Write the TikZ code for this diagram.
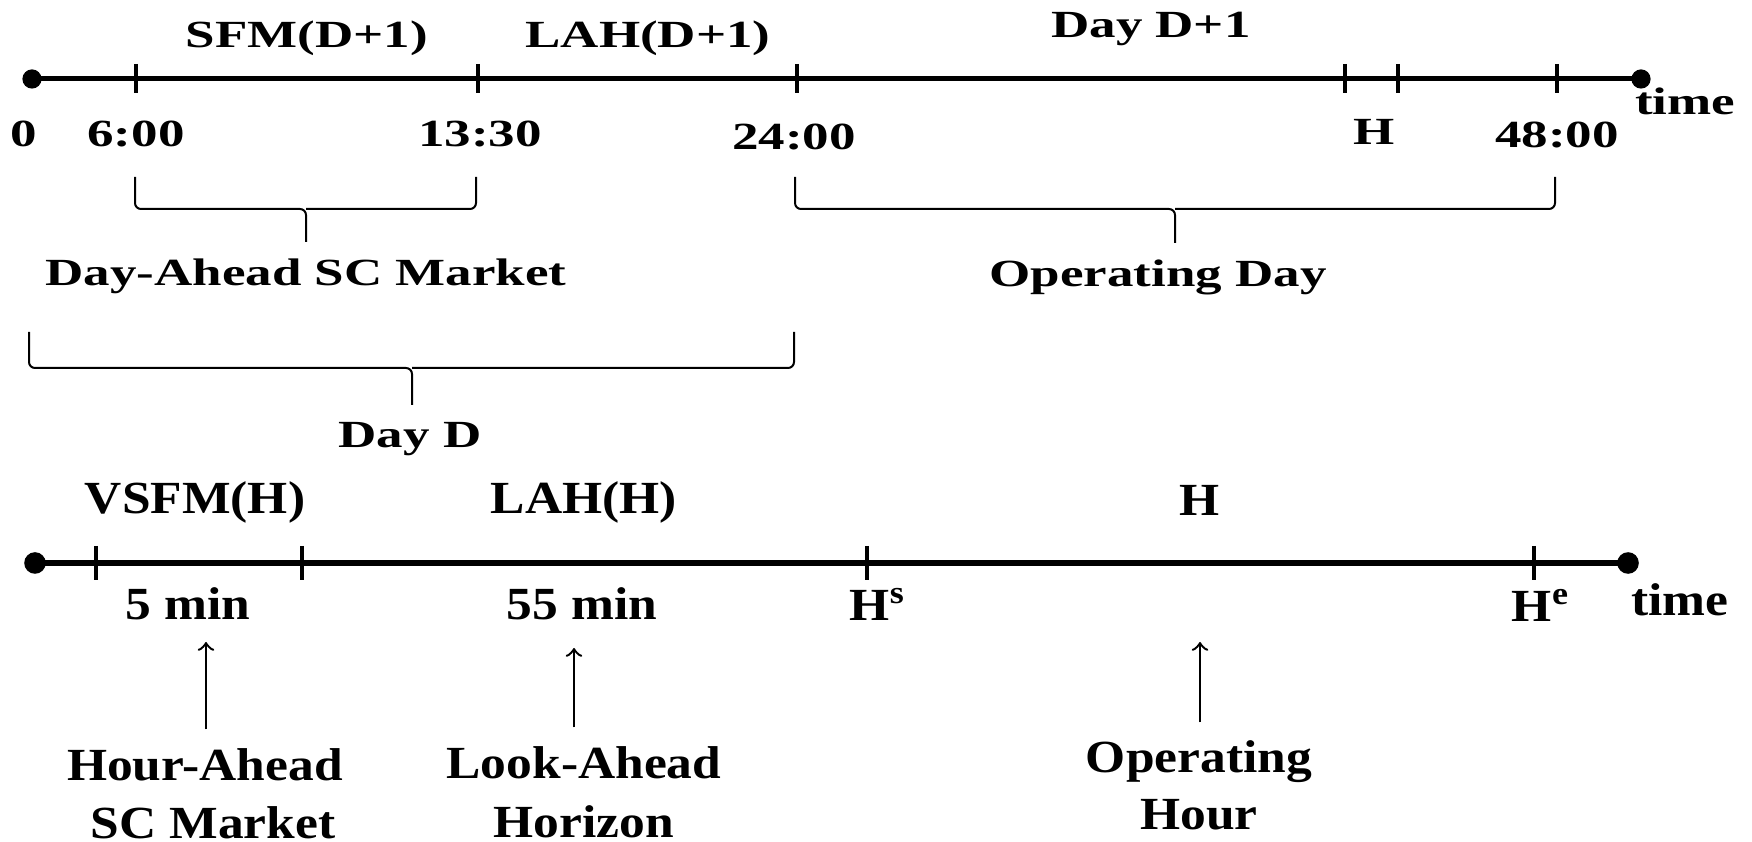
\documentclass[tikz,border=0pt]{standalone}
\usepackage{fontspec}
\usepackage{tikz}
\usetikzlibrary{arrows}
\newfontfamily\topfont[FakeStretch=1.38]{Liberation Serif}
\newfontfamily\botfont[FakeStretch=1.12]{Liberation Serif}

\begin{document}
\begin{tikzpicture}[x=0.25pt,y=-0.25pt,>=to,
                    axis/.style={line width=1.25pt},
                    tick/.style={line width=0.8pt},
                    brace/.style={line width=0.5pt,rounded corners=1.5pt},
                    pointer/.style={->,line width=0.6pt,shorten <=4.5pt},
                    toplab/.style={font=\topfont\bfseries\fontsize{9.6}{11}\selectfont,
                                   anchor=base,inner sep=0pt},
                    botlab/.style={font=\botfont\bfseries\fontsize{11.5}{14}\selectfont,
                                   anchor=base,inner sep=0pt}]
  \useasboundingbox (0,0) rectangle (1752,842);
%  \draw[help lines] (0,0) grid (1752,842);

  % day-ahead time line
  \coordinate (t0)   at (32,79);
  \coordinate (t6)   at (136,79);
  \coordinate (t13)  at (478,79);
  \coordinate (t24)  at (797,79);
  \coordinate (th)   at (1345,79);
  \coordinate (th1)  at (1398,79);
  \coordinate (t48)  at (1557,79);
  \coordinate (tend) at (1641,79);

  \draw[axis] (t0) -- (tend);
  \fill (t0) circle[radius=2.4pt] (tend) circle[radius=2.4pt];
  \foreach \p in {t6,t13,t24,th,th1,t48}
    \draw[tick] (\p) ++(0,-15) -- ++(0,29);

  \node[toplab] (sfm)   at (307,48)   {SFM(D+1)};
  \node[toplab] (lahd)  at (648,48)   {LAH(D+1)};
  \node[toplab] (dayd1) at (1151,38)  {Day D+1};
  \node[toplab] (l0)    at (24,147)   {0};
  \node[toplab] (l6)    at (136,147)  {6:00};
  \node[toplab] (l13)   at (480,147)  {13:30};
  \node[toplab] (l24)   at (794,150)  {24:00};
  \node[toplab] (lh)    at (1374,145) {H};
  \node[toplab] (l48)   at (1557,148) {48:00};
  \node[toplab] (ttime) at (1685,115) {time};

  \foreach \l/\r/\m/\top/\mid/\tip in {135/476/306/177/209/242,
                                      795/1555/1175/177/209/243,
                                      29/794/412/332/368/405}{
    \draw[brace] (\l,\top) |- (\m,\mid) -- (\m,\tip);
    \draw[brace] (\r,\top) |- (\m,\mid);
  }

  \node[toplab] (damkt) at (306,286)  {Day-Ahead SC Market};
  \node[toplab] (opday) at (1158,287) {Operating Day};
  \node[toplab] (dayd)  at (410,448)  {Day D};

  % hour-ahead time line
  \coordinate (s0)   at (35,563);
  \coordinate (s5)   at (96,563);
  \coordinate (s60)  at (302,563);
  \coordinate (shs)  at (867,563);
  \coordinate (she)  at (1534,563);
  \coordinate (send) at (1628,563);

  \draw[axis,line width=1.6pt] (s0) -- (send);
  \fill (s0) circle[radius=2.7pt] (send) circle[radius=2.7pt];
  \foreach \p in {s5,s60,shs,she}
    \draw[tick] (\p) ++(0,-17) -- ++(0,34);

  \node[botlab] (vsfm)  at (195,514)  {VSFM(H)};
  \node[botlab] (lahh)  at (584,514)  {LAH(H)};
  \node[botlab] (hour)  at (1200,516) {H};
  \node[botlab] (m5)    at (188,620)  {5 min};
  \node[botlab] (m55)   at (582,620)  {55 min};
  \node[botlab,anchor=base west] (hs) at (849,621) {H\textsuperscript{s}};
  \node[botlab] (he)    at (1541,622) {H\textsuperscript{e}};
  \node[botlab] (stime) at (1680,616) {time};

  \node[botlab] (hamkt)  at (205,780) {Hour-Ahead};
  \node[botlab] (hamkt2) at ([xshift=2pt,yshift=-14.5pt]hamkt.base) {SC Market};
  \node[botlab] (lahz)   at (584,778) {Look-Ahead};
  \node[botlab] (lahz2)  at ([yshift=-14.75pt]lahz.base) {Horizon};
  \node[botlab] (ophr)   at (1199,773) {Operating};
  \node[botlab] (ophr2)  at ([yshift=-14.25pt]ophr.base) {Hour};

  \coordinate (p1) at (206,642);
  \coordinate (p2) at (574,648);
  \coordinate (p3) at (1200,642);
  \draw[pointer] (p1 |- hamkt.north) -- (p1);
  \draw[pointer] (p2 |- lahz.north) -- (p2);
  \draw[pointer] (p3 |- ophr.north) -- (p3);

\end{tikzpicture}
\end{document}
